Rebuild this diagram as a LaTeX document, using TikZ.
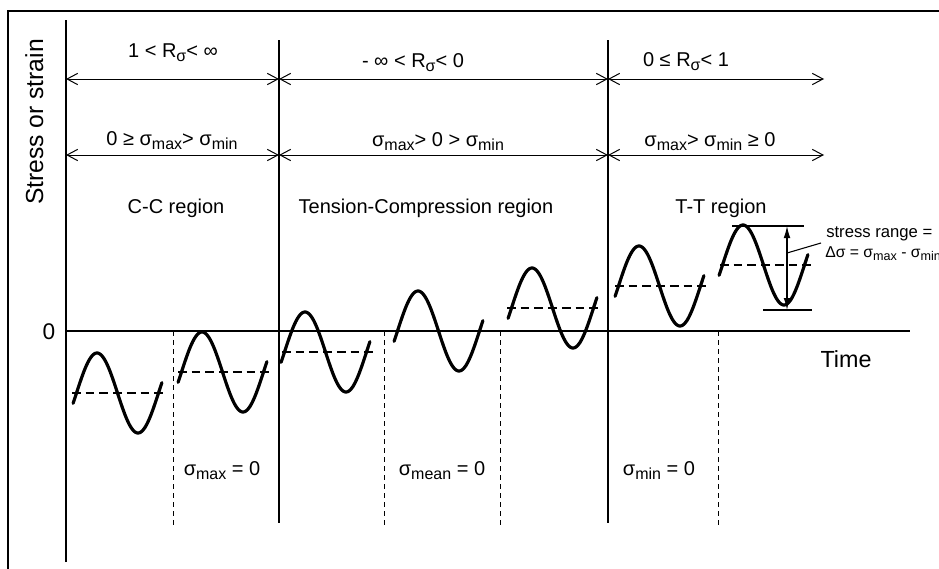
\documentclass[tikz,border=0pt]{standalone}
\usepackage{fontspec}
\setmainfont{Liberation Sans}
\usetikzlibrary{arrows.meta}
\newcommand{\lsub}[1]{\raisebox{-0.24em}{\scalebox{0.8}{#1}}}
\begin{document}
\begin{tikzpicture}[x=0.75pt,y=-0.75pt,
  rowlbl/.style={inner sep=0pt, anchor=base, font=\fontsize{15}{18}\selectfont},
  reglbl/.style={inner sep=0pt, anchor=base, font=\fontsize{15}{18}\selectfont},
  biglbl/.style={inner sep=0pt, anchor=base, font=\fontsize{17.5}{20}\selectfont},
  notelbl/.style={inner sep=0pt, anchor=base west, font=\fontsize{12.5}{15}\selectfont},
  rule/.style={line width=0.8pt},
  dimarrow/.style={line width=0.75pt, {Straight Barb[length=8pt,width=8.5pt]}-{Straight Barb[length=8pt,width=8.5pt]}},
  rangearrow/.style={line width=0.8pt, {Latex[length=9pt,width=5pt]}-{Latex[length=9pt,width=5pt]}},
  wave/.style={line width=2.4pt, line cap=round},
  meanline/.style={line width=1.1pt, dash pattern=on 6.5pt off 3.8pt},
  vdash/.style={line width=0.75pt, dash pattern=on 3.75pt off 3pt},
]
\useasboundingbox (0,0) rectangle (939,568);
\begin{scope}
\clip (0,0) rectangle (939,568);
% frame
\coordinate (fbl) at (8,600);
\coordinate (ftl) at (8,11);
\coordinate (ftr) at (960,11);
\draw[rule] (fbl) -- (ftl) -- (ftr);

% axes
\coordinate (yb) at (66,562);
\coordinate (yt) at (66,20);
\coordinate (xo) at (66,331);
\coordinate (xe) at (910,331);
\draw[rule] (yb) -- (yt);
\draw[rule] (xo) -- (xe);

% solid separators
\coordinate (s1t) at (279,40);
\coordinate (s1b) at (279,523);
\coordinate (s2t) at (608,40);
\coordinate (s2b) at (608,523);
\draw[rule] (s1t) -- (s1b);
\draw[rule] (s2t) -- (s2b);

% dashed separators
\foreach \xx [count=\i] in {173,384,500,718}{
  \coordinate (d\i t) at (\xx,331);
  \coordinate (d\i b) at (\xx,527);
  \draw[vdash] (d\i t) -- (d\i b);
}

% dimension arrows
\coordinate (r1a) at (66,79);
\coordinate (r1b) at (279,79);
\coordinate (r1c) at (608,79);
\coordinate (r1d) at (824,79);
\coordinate (r2a) at (66,155);
\coordinate (r2b) at (279,155);
\coordinate (r2c) at (608,155);
\coordinate (r2d) at (824,155);
\draw[dimarrow] (r1a) -- (r1b);
\draw[dimarrow] (r1b) -- (r1c);
\draw[dimarrow] (r1c) -- (r1d);
\draw[dimarrow] (r2a) -- (r2b);
\draw[dimarrow] (r2b) -- (r2c);
\draw[dimarrow] (r2c) -- (r2d);

% row labels
\node[rowlbl] (t11) at (173,57) {1 < R\lsub{σ}< ∞};
\node[rowlbl] (t12) at (413,67) {- ∞ < R\lsub{σ}< 0};
\node[rowlbl] (t13) at (686,66) {0 ≤ R\lsub{σ}< 1};
\node[rowlbl] (t21) at (172,145) {0 ≥ σ\lsub{max}> σ\lsub{min}};
\node[rowlbl] (t22) at (438,146) {σ\lsub{max}> 0 > σ\lsub{min}};
\node[rowlbl] (t23) at (710,146) {σ\lsub{max}> σ\lsub{min} ≥ 0};

% region labels
\node[reglbl] (cc) at (176,213) {C-C region};
\node[reglbl] (tc) at (426,213) {Tension-Compression region};
\node[reglbl] (tt) at (721,213) {T-T region};

% axis labels
\node[biglbl, font=\fontsize{18.5}{22}\selectfont, rotate=90] (ylab) at (43,122) {Stress or strain};
\node[biglbl, font=\fontsize{17}{20}\selectfont] (zero) at (49,339) {0};
\node[biglbl] (time) at (846,367) {Time};

% bottom labels
\node[rowlbl] (b1) at (222,475) {σ\lsub{max} = 0};
\node[rowlbl] (b2) at (442,475) {σ\lsub{mean} = 0};
\node[rowlbl] (b3) at (659,475) {σ\lsub{min} = 0};

% waves
\foreach \xs/\ym in {76.5/393, 181.5/372, 284.5/352, 397.5/331, 511.5/308, 618.5/286, 722.5/265}{
  \draw[wave] plot[domain=-15:375, samples=80, smooth] ({\xs + \x*0.227778}, {\ym - 40*sin(\x)});
}

% mean lines
\foreach \xa/\xb/\ym [count=\i] in {72/166/393, 178/272/372, 282/377/352, 507/601/308, 615/709/286, 720/815/265}{
  \coordinate (m\i a) at (\xa,\ym);
  \coordinate (m\i b) at (\xb,\ym);
  \draw[meanline] (m\i a) -- (m\i b);
}

% stress range annotation
\coordinate (rt1) at (732,226);
\coordinate (rt2) at (804,226);
\coordinate (rb1) at (763,310);
\coordinate (rb2) at (812,310);
\draw[rule] (rt1) -- (rt2);
\draw[rule] (rb1) -- (rb2);
\coordinate (rat) at (787,226);
\coordinate (rab) at (787,310);
\draw[rangearrow] (rat) -- (rab);
\node[notelbl] (sr1) at (826,237) {stress range =};
\node[notelbl, font=\fontsize{11.8}{14}\selectfont] (sr2) at (825,257) {Δσ = σ\lsub{max} - σ\lsub{min}};
\coordinate (lead) at (787,253);
\coordinate (leadend) at (821,243);
\draw[rule] (lead) -- (leadend);
\end{scope}
\end{tikzpicture}
\end{document}
